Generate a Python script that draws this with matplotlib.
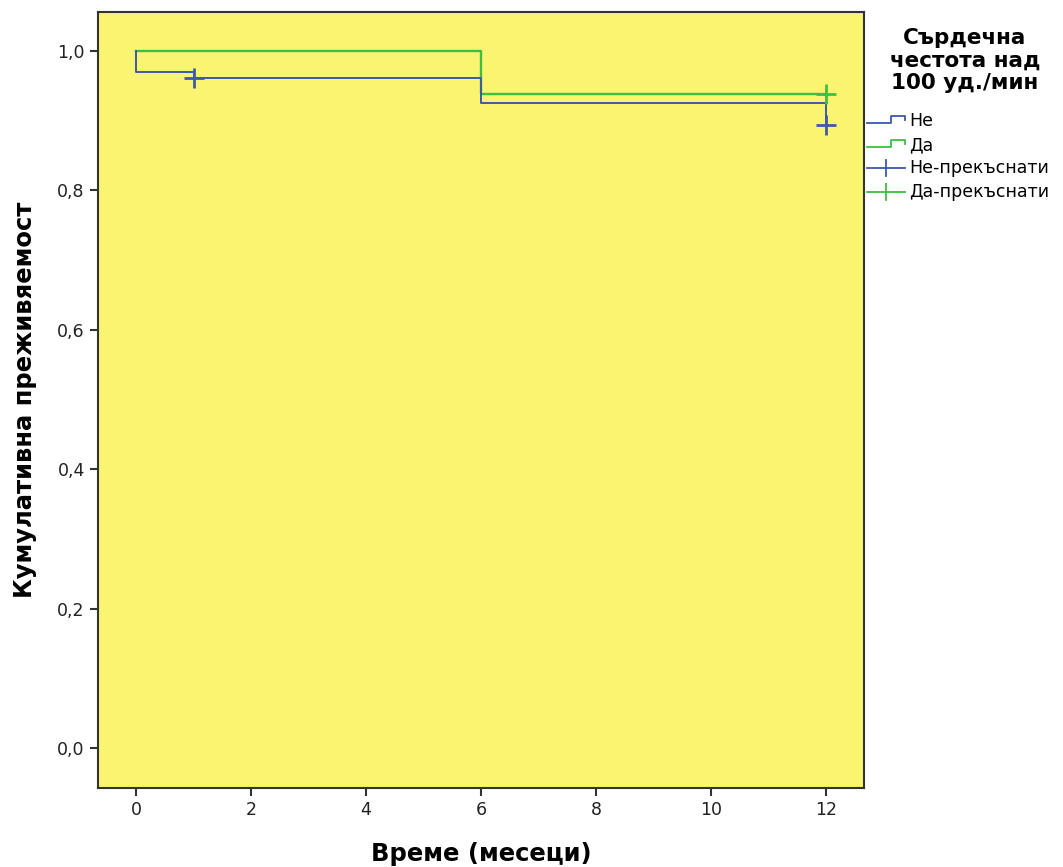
import matplotlib
matplotlib.use("Agg")
import matplotlib.pyplot as plt
from matplotlib.lines import Line2D

plt.rcParams['font.family'] = ['DejaVu Sans']

# данни (Каплан-Майер)
ne_t = [0, 0, 1, 6, 12]
ne_s = [1.0, 0.970, 0.962, 0.926, 0.894]
da_t = [0, 6, 12]
da_s = [1.0, 0.938, 0.938]
ne_cens_t = [1, 12]
ne_cens_s = [0.962, 0.894]
da_cens_t = [12]
da_cens_s = [0.938]

blue = '#3E58AC'
green = '#3CBF44'
W, H = 1063, 867

fig = plt.figure(figsize=(W / 100, H / 100), dpi=100)
ax = fig.add_axes([98 / W, 1 - 788 / H, (864 - 98) / W, (788 - 12) / H])
ax.set_facecolor('#FAF570')

ax.step(da_t, da_s, where='post', color=green, lw=1.7)
ax.step(ne_t, ne_s, where='post', color=blue, lw=1.4)
ax.plot(ne_cens_t, ne_cens_s, '+', color=blue, ms=14, mew=2)
ax.plot(da_cens_t, da_cens_s, '+', color=green, ms=14, mew=2)

ax.set_xlim(-0.661, 12.66)
ax.set_ylim(-0.0574, 1.056)
ax.set_xticks(range(0, 13, 2))
ax.set_yticks([0, 0.2, 0.4, 0.6, 0.8, 1.0])
ax.set_yticklabels(['0,0', '0,2', '0,4', '0,6', '0,8', '1,0'])
ax.tick_params(direction='out', length=6, width=1.5, labelsize=12.5, color='#333333',
               labelcolor='#222222')
for s in ax.spines.values():
    s.set_linewidth(1.5)
    s.set_color('#333333')


def px(x, y):
    return x / W, 1 - y / H


fig.text(*px(481, 854), 'Време (месеци)', fontsize=17.5, fontweight='bold',
         ha='center', va='center')
fig.text(*px(25, 400), 'Кумулативна преживяемост', fontsize=17.5, fontweight='bold',
         ha='center', va='center', rotation=90)

# легенда
for i, line in enumerate(['Сърдечна', 'честота над', '100 уд./мин']):
    fig.text(*px(965, 38 + i * 22.5), line, fontsize=15.5, fontweight='bold',
             ha='center', va='center')

handles = [
    ('Не', blue, 'step', 121),
    ('Да', green, 'step', 145),
    ('Не-прекъснати', blue, 'cross', 168),
    ('Да-прекъснати', green, 'cross', 192),
]
for label, col, kind, y in handles:
    if kind == 'step':
        xs = [867, 891, 891, 905, 905]
        ys = [y + 2, y + 2, y - 5, y - 5, y - 1]
    else:
        xs = [867, 905]
        ys = [y, y]
        vx, vy = zip(px(886, y - 8), px(886, y + 8))
        fig.add_artist(Line2D(vx, vy, color=col, lw=1.3))
    pts = [px(a, b) for a, b in zip(xs, ys)]
    fig.add_artist(Line2D([p[0] for p in pts], [p[1] for p in pts], color=col, lw=1.3))
    fig.text(*px(909, y), label, fontsize=12.5, ha='left', va='center')

fig.savefig('out.png', dpi=100)
